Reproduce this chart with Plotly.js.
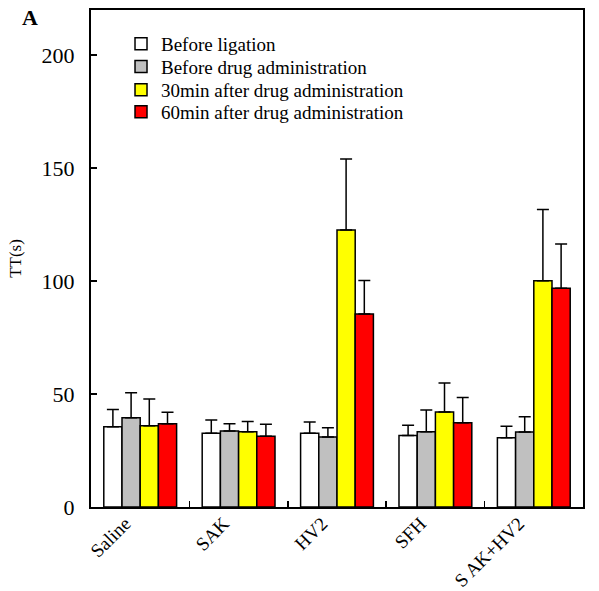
<!DOCTYPE html>
<html>
<head>
<meta charset="utf-8">
<script src="https://cdn.plot.ly/plotly-3.0.1.min.js"></script>
<style>html,body{margin:0;padding:0;background:#fff;}</style>
</head>
<body>
<div id="chart" style="width:599px;height:591px;"></div>
<script>
const categories = ["Saline", "SAK", "HV2", "SFH", "S AK+HV2"];
const seriesNames = ["Before ligation", "Before drug administration", "30min after drug administration", "60min after drug administration"];
const beforeLigation = [35.5, 32.6, 32.6, 31.6, 30.7];
const beforeLigationErr = [7.7, 5.9, 5.0, 4.6, 5.0];
const beforeDrug = [39.5, 33.6, 31.0, 33.3, 33.2];
const beforeDrugErr = [11.1, 3.3, 4.1, 9.6, 6.8];
const after30 = [36.0, 33.3, 122.6, 42.0, 100.1];
const after30Err = [11.8, 4.6, 31.4, 12.9, 31.6];
const after60 = [36.9, 31.3, 85.4, 37.3, 96.8];
const after60Err = [5.0, 5.3, 14.9, 11.2, 19.6];
const colors = ["#ffffff", "#c0c0c0", "#ffff00", "#ff0000"];

const vals = [beforeLigation, beforeDrug, after30, after60];
const errs = [beforeLigationErr, beforeDrugErr, after30Err, after60Err];
const legendIds = ["legend", "legend2", "legend3", "legend4"];
const legendY = [0.932, 0.886, 0.839, 0.795];

const traces = vals.map((v, i) => ({
  type: "bar",
  name: seriesNames[i],
  legend: legendIds[i],
  x: categories,
  y: v,
  marker: {color: colors[i], line: {color: "#000", width: 1.5}},
  error_y: {type: "data", symmetric: false, array: errs[i], arrayminus: v.map(() => 0), color: "#000", thickness: 1.5, width: 6}
}));

const layout = {
  width: 599, height: 591,
  margin: {l: 91, r: 16, t: 10, b: 84},
  paper_bgcolor: "#fff", plot_bgcolor: "#fff",
  font: {family: "Liberation Serif, Times New Roman, serif", color: "#000", size: 16},
  barmode: "group",
  bargap: 0.26,
  bargroupgap: 0,
  showlegend: true,
  xaxis: {
    type: "category",
    showline: true, linecolor: "#000", linewidth: 2, mirror: true,
    ticks: "inside", tickson: "boundaries", ticklen: 6, tickwidth: 1.5, tickcolor: "#000",
    tickangle: -45, tickfont: {size: 19}, ticklabelshift: -15, ticklabelstandoff: -4, showgrid: false, zeroline: false
  },
  yaxis: {
    range: [0, 220],
    tickvals: [0, 50, 100, 150, 200],
    showline: true, linecolor: "#000", linewidth: 2, mirror: true,
    ticks: "inside", ticklen: 6, tickwidth: 1.5, tickcolor: "#000",
    tickfont: {size: 22}, ticklabelstandoff: 10, showgrid: false, zeroline: false,
    title: {text: "TT(s)", font: {size: 17}, standoff: 16}
  },
  annotations: [{text: "<b>A</b>", xref: "paper", yref: "paper", x: -0.145, y: 0.985, xanchor: "left", yanchor: "middle", showarrow: false, font: {size: 22}}]
};
legendIds.forEach((id, i) => {
  layout[id] = {x: 0.061, y: legendY[i], xanchor: "left", yanchor: "middle", bgcolor: "rgba(0,0,0,0)", font: {size: 19}, itemwidth: 30};
});

Plotly.newPlot("chart", traces, layout, {displayModeBar: false, staticPlot: true});
</script>
</body>
</html>
